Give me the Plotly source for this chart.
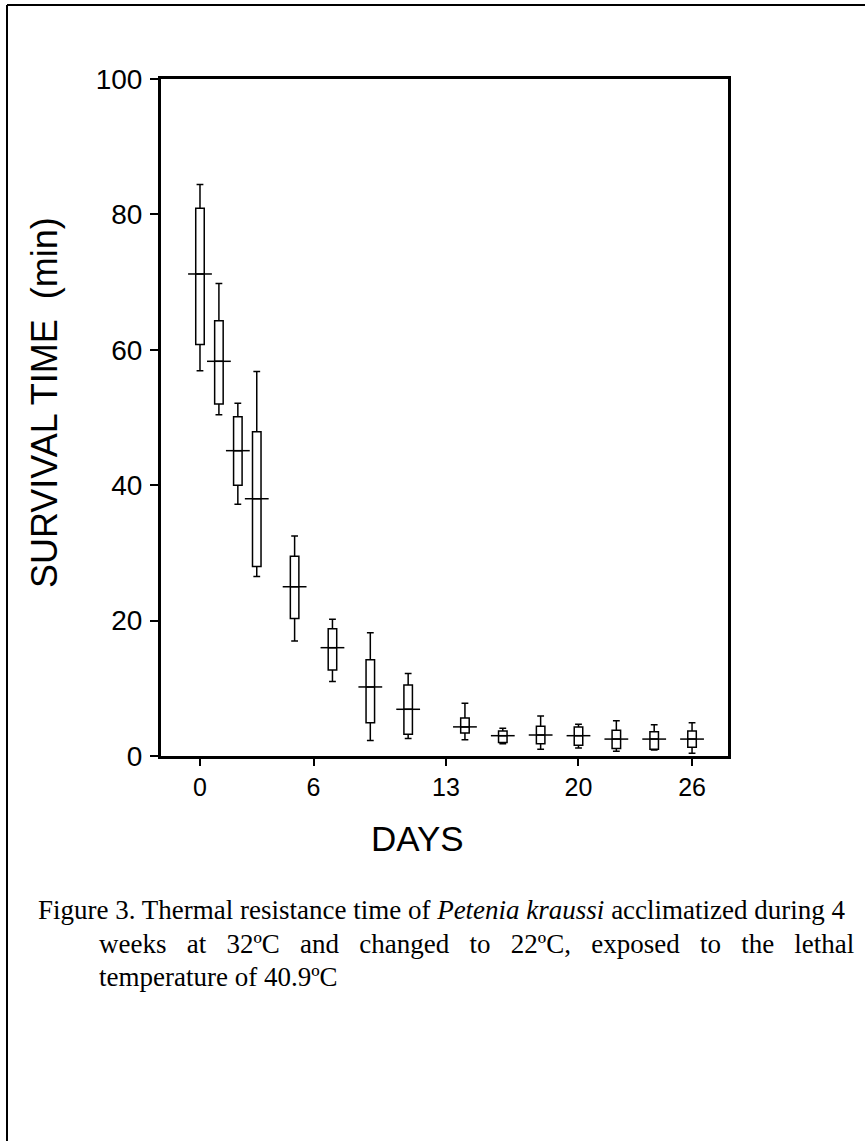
import plotly.graph_objects as go

# ---- data ----
days = [0, 1, 2, 3, 5, 7, 9, 11, 14, 16, 18, 20, 22, 24, 26]
upper_whisker = [84.4, 69.8, 52.1, 56.8, 32.5, 20.2, 18.2, 12.2, 7.8, 4.1, 5.9, 4.7, 5.2, 4.6, 4.9]
q3_values = [80.9, 64.3, 50.1, 47.9, 29.5, 18.8, 14.2, 10.5, 5.6, 3.7, 4.4, 4.3, 3.8, 3.6, 3.7]
median_values = [71.2, 58.3, 45.1, 38.0, 25.0, 16.0, 10.2, 6.9, 4.3, 3.0, 3.1, 3.0, 2.5, 2.5, 2.5]
q1_values = [60.8, 52.0, 40.0, 28.0, 20.3, 12.7, 4.9, 3.2, 3.4, 2.0, 1.8, 1.6, 1.1, 1.0, 1.3]
lower_whisker = [56.9, 50.4, 37.2, 26.5, 17.0, 11.0, 2.3, 2.6, 2.4, 1.8, 1.0, 1.2, 0.7, 0.9, 0.4]

x_tick_vals = [0, 6, 13, 20, 26]
x_tick_text = ["0", "6", "13", "20", "26"]
y_tick_vals = [0, 20, 40, 60, 80, 100]
y_tick_text = ["0", "20", "40", "60", "80", "100"]

y_title = "SURVIVAL TIME\u00a0\u00a0(min)"
x_title = "DAYS"
caption_lines = [
    "Figure 3. Thermal resistance time of <i>Petenia kraussi</i> acclimatized during 4",
    "weeks\u00a0\u00a0 at\u00a0\u00a0 32ºC\u00a0\u00a0 and\u00a0\u00a0 changed\u00a0\u00a0 to\u00a0\u00a0 22ºC,\u00a0\u00a0 exposed\u00a0\u00a0 to\u00a0\u00a0 the\u00a0\u00a0 lethal",
    "temperature of 40.9ºC",
]

# ---- layout geometry (pixels) ----
W, H = 865, 1141
L, R, T, B = 161, 728, 79, 756
pw, ph = R - L, B - T


def px(xp):
    return (xp - L) / pw


def py(yp):
    return (B - yp) / ph


sans = "Liberation Sans, Arial, Helvetica, sans-serif"
serif = "Liberation Serif, Times New Roman, serif"

fig = go.Figure()

fig.add_trace(go.Box(
    x=days,
    q1=q1_values,
    median=median_values,
    q3=q3_values,
    lowerfence=lower_whisker,
    upperfence=upper_whisker,
    width=0.45,
    whiskerwidth=0.8,
    boxpoints=False,
    fillcolor="white",
    line=dict(color="black", width=1.5),
    showlegend=False,
))

# median cross-lines (wider than the boxes)
fig.add_trace(go.Scatter(
    x=days,
    y=median_values,
    mode="markers",
    marker=dict(symbol="line-ew", size=17, line=dict(color="black", width=1.5)),
    showlegend=False,
))

fig.update_layout(
    width=W,
    height=H,
    margin=dict(l=L, r=W - R, t=T, b=H - B),
    paper_bgcolor="white",
    plot_bgcolor="white",
    showlegend=False,
    xaxis=dict(
        range=[-2.06, 27.9],
        tickmode="array",
        tickvals=x_tick_vals,
        ticktext=x_tick_text,
        ticks="outside",
        ticklen=7,
        tickwidth=2,
        tickcolor="black",
        showline=True,
        linecolor="black",
        linewidth=3,
        mirror=True,
        showgrid=False,
        zeroline=False,
        tickfont=dict(family=sans, size=25, color="black"),
    ),
    yaxis=dict(
        range=[0, 100],
        tickmode="array",
        tickvals=y_tick_vals,
        ticktext=y_tick_text,
        ticks="outside",
        ticklen=8,
        tickwidth=2,
        tickcolor="black",
        showline=True,
        linecolor="black",
        linewidth=3,
        mirror=True,
        showgrid=False,
        zeroline=False,
        tickfont=dict(family=sans, size=28, color="black"),
        ticklabelstandoff=2,
    ),
)

annotations = [
    dict(text=y_title, x=px(45), y=py(403), xref="paper", yref="paper",
         textangle=-90, showarrow=False, xanchor="center", yanchor="middle",
         font=dict(family=sans, size=36, color="black")),
    dict(text=x_title, x=px(417), y=py(838), xref="paper", yref="paper",
         showarrow=False, xanchor="center", yanchor="middle",
         font=dict(family=sans, size=35, color="black")),
]
caption_pos = [(36, 910), (97, 944), (97, 977)]
for line, (cx, cy) in zip(caption_lines, caption_pos):
    annotations.append(dict(text=line, x=px(cx), y=py(cy), xref="paper", yref="paper",
                            showarrow=False, xanchor="left", yanchor="middle",
                            font=dict(family=serif, size=27, color="black")))
fig.update_layout(annotations=annotations)

# page frame (top and left edges)
fig.add_shape(type="line", xref="paper", yref="paper",
              x0=px(7), x1=px(865), y0=py(5), y1=py(5),
              line=dict(color="black", width=2))
fig.add_shape(type="line", xref="paper", yref="paper",
              x0=px(7), x1=px(7), y0=py(5), y1=py(1141),
              line=dict(color="black", width=2))

fig.write_html("out.html")
